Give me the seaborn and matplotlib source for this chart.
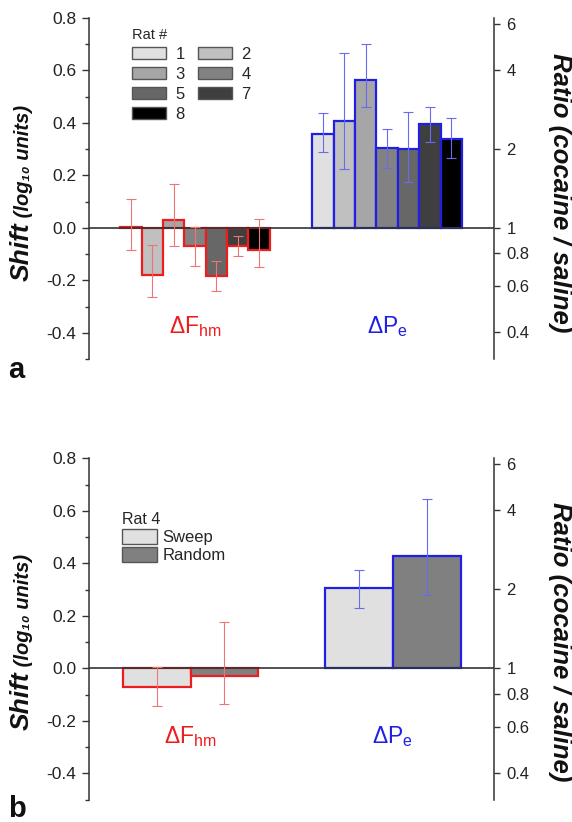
import numpy as np
import pandas as pd
import matplotlib
matplotlib.use("Agg")
import matplotlib.pyplot as plt
from matplotlib.patches import Patch
import seaborn as sns

# ---- data -------------------------------------------------------------
measures = ["ΔFhm", "ΔPe"]

rats = ["1", "2", "3", "4", "5", "7", "8"]
rat_colors = ["#e0e0e0", "#c0c0c0", "#a6a6a6", "#828282", "#676767", "#3f3f3f", "#000000"]
fhm_shift = [0.005, -0.180, 0.029, -0.071, -0.183, -0.069, -0.086]
fhm_lo = [-0.083, -0.265, -0.071, -0.146, -0.242, -0.107, -0.148]
fhm_hi = [0.110, -0.067, 0.166, 0.004, -0.126, -0.031, 0.033]
pe_shift = [0.357, 0.406, 0.565, 0.306, 0.300, 0.394, 0.340]
pe_lo = [0.291, 0.224, 0.459, 0.227, 0.175, 0.329, 0.268]
pe_hi = [0.436, 0.668, 0.700, 0.375, 0.441, 0.461, 0.417]

methods = ["Sweep", "Random"]
method_colors = ["#e0e0e0", "#808080"]
m_fhm_shift = [-0.070, -0.029]
m_fhm_lo = [-0.145, -0.137]
m_fhm_hi = [0.005, 0.175]
m_pe_shift = [0.305, 0.428]
m_pe_lo = [0.229, 0.279]
m_pe_hi = [0.376, 0.646]

shift_ticks = [-0.4, -0.2, 0.0, 0.2, 0.4, 0.6, 0.8]
shift_labels = ["-0.4", "-0.2", "0.0", "0.2", "0.4", "0.6", "0.8"]
ratio_ticks = [0.4, 0.6, 0.8, 1, 2, 4, 6]
ratio_labels = ["0.4", "0.6", "0.8", "1", "2", "4", "6"]

# ---- style ------------------------------------------------------------
sns.set_style("white")
plt.rcParams["font.family"] = ["Liberation Sans", "DejaVu Sans"]
plt.rcParams["mathtext.fontset"] = "custom"
plt.rcParams["mathtext.rm"] = "Liberation Sans"
plt.rcParams["mathtext.it"] = "Liberation Sans:italic"
plt.rcParams["mathtext.bf"] = "Liberation Sans:bold"

AX_COL = "#333333"
RED = "#ee1c1c"
BLUE = "#1f1fe6"
RED_ERR = "#f07474"
BLUE_ERR = "#6a6af0"
edge_cols = [RED, BLUE]
err_cols = [RED_ERR, BLUE_ERR]

fig = plt.figure(figsize=(5.72, 8.22), dpi=100)
W, H = 572.0, 822.0


def panel(rect, xlim, hue_vals, palette, shifts, los, his, width,
          legend_title, legend_order, ncol, legend_anchor, leg_kw,
          label_y, letter, letter_y):
    ax = fig.add_axes(rect)
    df = pd.DataFrame({
        "measure": np.repeat(measures, len(hue_vals)),
        "group": list(hue_vals) * 2,
        "shift": list(shifts[0]) + list(shifts[1]),
    })
    sns.barplot(data=df, x="measure", y="shift", hue="group",
                hue_order=hue_vals, palette=palette, order=measures,
                width=width, errorbar=None, legend=False, ax=ax,
                saturation=1, zorder=2)

    # outline colour per measure, then error bars at the bar centres
    groups = {0: [], 1: []}
    for p in ax.patches:
        cx = p.get_x() + p.get_width() / 2
        g = 0 if cx < 0.5 else 1
        p.set_edgecolor(edge_cols[g])
        p.set_linewidth(1.6)
        groups[g].append(cx)
    for g in (0, 1):
        xs = np.sort(groups[g])
        v = np.asarray(shifts[g])
        lo = np.asarray(los[g])
        hi = np.asarray(his[g])
        ax.errorbar(xs, v, yerr=[v - lo, hi - v], fmt="none",
                    ecolor=err_cols[g], elinewidth=0.8, capsize=3.5,
                    capthick=0.8, zorder=4)

    ax.axhline(0, color=AX_COL, lw=1.2, zorder=3)
    ax.set_xlim(*xlim)
    ax.set_ylim(-0.5, 0.8)
    ax.set_xlabel("")
    ax.set_ylabel("")
    ax.set_xticks([])
    for s in ("top", "bottom", "right"):
        ax.spines[s].set_visible(False)
    ax.spines["left"].set_color(AX_COL)
    ax.spines["left"].set_linewidth(1.1)
    ax.set_yticks(shift_ticks)
    ax.set_yticklabels(shift_labels)
    ax.set_yticks(np.arange(-0.5, 0.81, 0.1), minor=True)
    ax.tick_params(axis="y", which="major", left=True, length=5, width=1.0,
                   color=AX_COL, labelsize=12.5, labelcolor="#222222", pad=4)
    ax.tick_params(axis="y", which="minor", left=True, length=3, width=1.0,
                   color=AX_COL)
    ax.patch.set_alpha(0)

    # ratio axis on the right (ratio = 10 ** shift)
    ax2 = ax.twinx()
    ax2.set_ylim(ax.get_ylim())
    ax2.set_yticks(np.log10(ratio_ticks))
    ax2.set_yticklabels(ratio_labels)
    for s in ("top", "bottom", "left"):
        ax2.spines[s].set_visible(False)
    ax2.spines["right"].set_color(AX_COL)
    ax2.spines["right"].set_linewidth(1.1)
    ax2.tick_params(axis="y", right=True, length=4, width=1.0, color=AX_COL,
                    labelsize=12, labelcolor="#222222", pad=5)
    ax2.grid(False)

    # measure labels under the bars
    ax.text(0, label_y, r"ΔF$_{\mathregular{hm}}$", color=RED, fontsize=16.5,
            ha="center", va="center")
    ax.text(1, label_y, r"ΔP$_{\mathregular{e}}$", color=BLUE, fontsize=16.5,
            ha="center", va="center")

    handles = [Patch(facecolor=palette[i], edgecolor="#555555", linewidth=1.0,
                     label=hue_vals[i]) for i in legend_order]
    leg = ax.legend(handles=handles, title=legend_title, ncol=ncol,
                    loc="upper left", bbox_to_anchor=legend_anchor,
                    frameon=False, borderpad=0, borderaxespad=0,
                    alignment="left", **leg_kw)
    leg.set_zorder(5)

    fig.text(0.014, letter_y, letter, fontsize=21, fontweight="bold",
             ha="left", va="baseline", color="#111111")
    return ax


rect_a = [89 / W, 1 - 359 / H, 405 / W, 341 / H]
rect_b = [89 / W, 1 - 799.6 / H, 405 / W, 341.3 / H]

ax_a = panel(rect_a, (-0.552, 1.557), rats, rat_colors,
             [fhm_shift, pe_shift], [fhm_lo, pe_lo], [fhm_hi, pe_hi], 0.78,
             "Rat #", [0, 2, 4, 6, 1, 3, 5], 2, (0.106, 0.972),
             dict(fontsize=12, title_fontsize=10.5, handlelength=2.05,
                  handleheight=0.75, labelspacing=0.3, handletextpad=0.55,
                  columnspacing=0.8),
             -0.375, "a", 1 - 378 / H)

ax_b = panel(rect_b, (-0.502, 1.50), methods, method_colors,
             [m_fhm_shift, m_pe_shift], [m_fhm_lo, m_pe_lo],
             [m_fhm_hi, m_pe_hi], 0.67, "Rat 4", [0, 1], 1, (0.081, 0.842),
             dict(fontsize=12, title_fontsize=11.5, handlelength=2.1,
                  handleheight=1.0, labelspacing=0.1, handletextpad=0.35),
             -0.26, "b", 1 - 817 / H)

# ---- axis titles ------------------------------------------------------
fig.canvas.draw()
renderer = fig.canvas.get_renderer()
for ax, cy in ((ax_a, 193), (ax_b, 642)):
    big = dict(fontsize=19, fontweight="bold", style="italic", color="#111111")
    small = dict(fontsize=14.5, fontweight="bold", style="italic",
                 color="#111111")
    x_base = 29 / W
    t1 = fig.text(x_base, 0.5, "Shift", rotation=90, rotation_mode="anchor",
                  ha="left", va="baseline", **big)
    t2 = fig.text(x_base, 0.5, " (log₁₀ units)", rotation=90,
                  rotation_mode="anchor", ha="left", va="baseline", **small)
    h1 = t1.get_window_extent(renderer).height
    h2 = t2.get_window_extent(renderer).height
    start = (H - cy) - (h1 + h2) / 2
    t1.set_y(start / H)
    t2.set_y((start + h1) / H)

    fig.text(560 / W, 1 - cy / H, "Ratio (cocaine / saline)", rotation=270,
             ha="center", va="center", fontsize=18.5, fontweight="bold",
             style="italic", color="#111111")

fig.savefig("out.png", dpi=100)
